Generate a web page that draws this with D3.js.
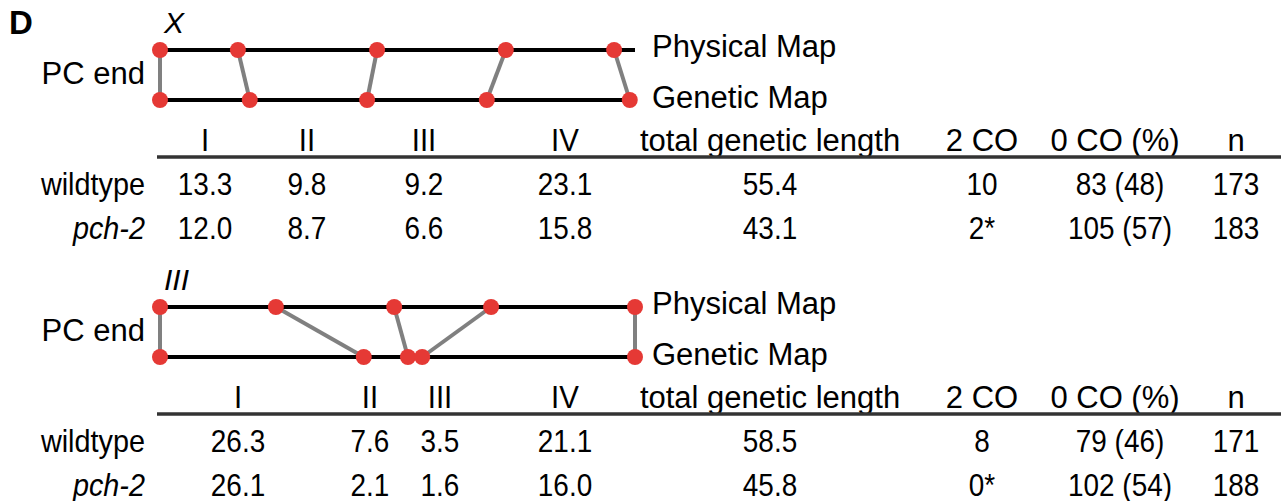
<!DOCTYPE html>
<html>
<head>
<meta charset="utf-8">
<script src="https://cdn.jsdelivr.net/npm/d3@7"></script>
<style>
  html, body { margin: 0; padding: 0; background: #fff; }
  svg { display: block; font-family: "Liberation Sans", Arial, Helvetica, sans-serif; }
</style>
</head>
<body>
<svg id="chart" width="1281" height="501"></svg>
<script>
// marker positions along each chromosome, 0 = PC end, 100 = far end
const xPhysical = [0, 16.4, 45.7, 72.8, 95.6];
const xGenetic = [0, 18.9, 43.6, 68.8, 98.9];
const xPhysicalEnd = 100;
const xGeneticEnd = 98.9;

const iiiPhysical = [0, 24.4, 49.3, 69.7, 100];
const iiiGenetic = [0, 42.9, 52.2, 55.2, 100];
const iiiPhysicalEnd = 100;
const iiiGeneticEnd = 100;

const intervals = ["I", "II", "III", "IV"];
const statHeaders = ["total genetic length", "2 CO", "0 CO (%)", "n"];
const genotypes = ["wildtype", "pch-2"];

// chromosome X
const xWtLength = [13.3, 9.8, 9.2, 23.1];
const xPchLength = [12.0, 8.7, 6.6, 15.8];
const xTotal = [55.4, 43.1];
const xTwoCO = ["10", "2*"];
const xZeroCO = [83, 105];
const xZeroPct = [48, 57];
const xN = [173, 183];

// chromosome III
const iiiWtLength = [26.3, 7.6, 3.5, 21.1];
const iiiPchLength = [26.1, 2.1, 1.6, 16.0];
const iiiTotal = [58.5, 45.8];
const iiiTwoCO = ["8", "0*"];
const iiiZeroCO = [79, 102];
const iiiZeroPct = [46, 54];
const iiiN = [171, 188];

const svg = d3.select("#chart");
const mapX = d3.scaleLinear().domain([0, 100]).range([160, 635]);
const statX = [770, 982, 1115, 1236];
const red = "#e53935";

svg.append("text")
    .attr("x", 9).attr("y", 34)
    .attr("font-size", 33).attr("font-weight", "bold")
    .text("D");

function drawPanel(top, name, phys, gen, physEnd, genEnd, colX, wt, pch, total, twoCO, zeroCO, zeroPct, n) {
    let g = svg.append("g").attr("transform", "translate(0," + top + ")");
    const yPhys = 50, yGen = 100;

    g.append("text").attr("x", 164).attr("y", 33)
        .attr("font-size", 30).attr("font-style", "italic").text(name);
    g.append("text").attr("x", 145).attr("y", 84)
        .attr("font-size", 31).attr("text-anchor", "end").text("PC end");

    g.append("line").attr("x1", mapX(0)).attr("x2", mapX(physEnd))
        .attr("y1", yPhys).attr("y2", yPhys)
        .attr("stroke", "#000").attr("stroke-width", 4);
    g.append("line").attr("x1", mapX(0)).attr("x2", mapX(genEnd))
        .attr("y1", yGen).attr("y2", yGen)
        .attr("stroke", "#000").attr("stroke-width", 4);

    g.selectAll(".link")
        .data(d3.zip(phys, gen))
        .join("line")
        .attr("class", "link")
        .attr("x1", d => mapX(d[0])).attr("y1", yPhys)
        .attr("x2", d => mapX(d[1])).attr("y2", yGen)
        .attr("stroke", "#808080").attr("stroke-width", 4);

    g.selectAll(".dotP")
        .data(phys)
        .join("circle")
        .attr("class", "dotP")
        .attr("cx", d => mapX(d)).attr("cy", yPhys).attr("r", 8)
        .attr("fill", red);
    g.selectAll(".dotG")
        .data(gen)
        .join("circle")
        .attr("class", "dotG")
        .attr("cx", d => mapX(d)).attr("cy", yGen).attr("r", 8)
        .attr("fill", red);

    g.append("text").attr("x", 652).attr("y", 57)
        .attr("font-size", 31).text("Physical Map");
    g.append("text").attr("x", 652).attr("y", 108)
        .attr("font-size", 31).text("Genetic Map");

    // table
    let cell = (x, y, txt, opts) => {
        opts = opts || {};
        g.append("text")
            .attr("transform", "translate(" + x + "," + y + ") scale(" + (opts.sx || 0.9) + ",1)")
            .attr("font-size", 31)
            .attr("text-anchor", opts.anchor || "middle")
            .attr("font-style", opts.italic ? "italic" : null)
            .text(txt);
    };

    intervals.forEach((d, i) => cell(colX[i], 151, d, {sx: 0.95}));
    statHeaders.forEach((d, i) => cell(statX[i], 151, d, {sx: 1.0}));

    g.append("line").attr("x1", 157).attr("x2", 1281)
        .attr("y1", 157).attr("y2", 157)
        .attr("stroke", "#333").attr("stroke-width", 3.5);

    const rowY = [195, 239];
    [wt, pch].forEach((vals, r) => {
        cell(145, rowY[r], genotypes[r], {italic: r === 1, anchor: "end", sx: 0.93});
        vals.forEach((v, i) => cell(colX[i], rowY[r], v.toFixed(1)));
        cell(statX[0], rowY[r], total[r].toFixed(1));
        cell(statX[1], rowY[r], twoCO[r]);
        cell(statX[2] + 5, rowY[r], zeroCO[r] + " (" + zeroPct[r] + ")");
        cell(statX[3], rowY[r], n[r]);
    });
}

drawPanel(0, "X", xPhysical, xGenetic, xPhysicalEnd, xGeneticEnd, [205, 307, 424, 565],
    xWtLength, xPchLength, xTotal, xTwoCO, xZeroCO, xZeroPct, xN);
drawPanel(257, "III", iiiPhysical, iiiGenetic, iiiPhysicalEnd, iiiGeneticEnd, [238, 370, 440, 565],
    iiiWtLength, iiiPchLength, iiiTotal, iiiTwoCO, iiiZeroCO, iiiZeroPct, iiiN);
</script>
</body>
</html>
